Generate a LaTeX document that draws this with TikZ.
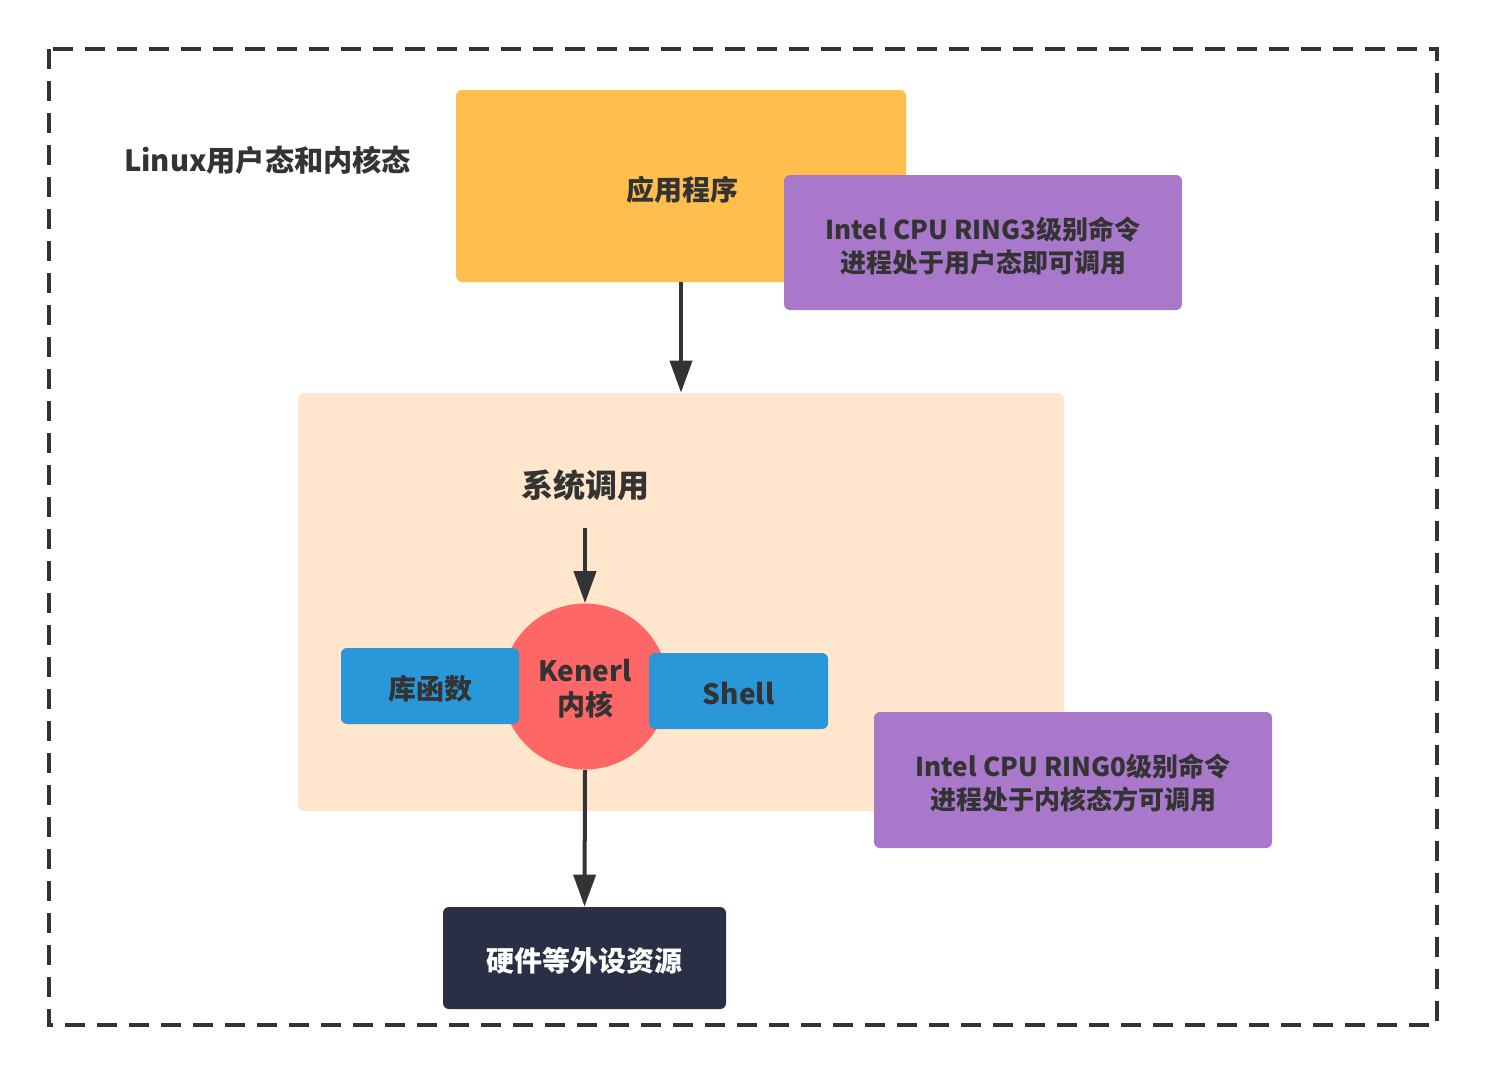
\documentclass[tikz,border=0pt]{standalone}
\usepackage{fontspec}
\setmainfont{Noto Sans CJK SC}
\usetikzlibrary{arrows.meta}
\definecolor{txt}{HTML}{333333}
\definecolor{orangeC}{HTML}{FFBE4D}
\definecolor{purpleC}{HTML}{A978CB}
\definecolor{peachC}{HTML}{FFE6CC}
\definecolor{redC}{HTML}{FF6666}
\definecolor{blueC}{HTML}{2A98D8}
\definecolor{darkC}{HTML}{2B2F45}
\tikzset{
  box/.style={rectangle, rounded corners=3pt, inner sep=0pt, align=center, text=txt, font=\bfseries\fontsize{13}{16}\selectfont},
  lbl/.style={text=txt, align=center, font=\bfseries\fontsize{14}{17}\selectfont},
  arr/.style={draw=txt, line width=2pt, -{Triangle[length=16pt,width=11pt]}},
}
\begin{document}
\begin{tikzpicture}[x=0.5pt,y=-0.5pt]
\useasboundingbox[fill=white] (0,0) rectangle (1486,1076);
\draw[txt, line width=2pt, dash pattern=on 10pt off 6pt] (49,49) rectangle (1437,1025);
\node[text=txt, font=\bfseries\fontsize{14.6}{16}\selectfont, anchor=west] (title) at (117,160) {Linux用户态和内核态};
% user space
\node[box, fill=orangeC, minimum width=225pt, minimum height=96pt] (app) at (681,186) {};
\node[lbl] (applabel) at (682,190) {应用程序};
\node[box, fill=purpleC, minimum width=199pt, minimum height=67.5pt] (ring3) at (983,242.5) {};
\node[text=txt, align=center, font=\bfseries\fontsize{13}{16.5}\selectfont] (ring3label) at (983,246) {Intel CPU RING3级别命令\\进程处于用户态即可调用};
% kernel space
\node[box, fill=peachC, minimum width=383pt, minimum height=209pt] (sys) at (681,602) {};
\node[text=txt, font=\bfseries\fontsize{16}{18}\selectfont] (syscall) at (585,485) {系统调用};
\coordinate (sysout) at (585,528);
\node[circle, fill=redC, minimum size=83pt, inner sep=0pt] (kernel) at (585,686.5) {};
\node[box, fill=blueC, minimum width=89pt, minimum height=38pt] (lib) at (430,686) {};
\node[lbl] (liblabel) at (430,689) {库函数};
\node[box, fill=blueC, minimum width=89.5pt, minimum height=38pt] (shell) at (738.5,691) {};
\node[lbl] (shelllabel) at (738.5,693) {Shell};
\node[lbl] (kernlabel) at (585,689) {Kenerl\\内核};
\node[box, fill=purpleC, minimum width=199pt, minimum height=68pt] (ring0) at (1073,780) {};
\node[text=txt, align=center, font=\bfseries\fontsize{13}{16.5}\selectfont] (ring0label) at (1073,783) {Intel CPU RING0级别命令\\进程处于内核态方可调用};
\node[box, fill=darkC, minimum width=141.5pt, minimum height=51pt] (hw) at (584.5,958) {};
\node[lbl, text=white] (hwlabel) at (584.5,961) {硬件等外设资源};
% connectors
\draw[arr] (app.south) -- (sys.north);
\draw[arr] (sysout) -- (kernel.north);
\draw[arr] (kernel.south) -- (hw.north);
\end{tikzpicture}
\end{document}
